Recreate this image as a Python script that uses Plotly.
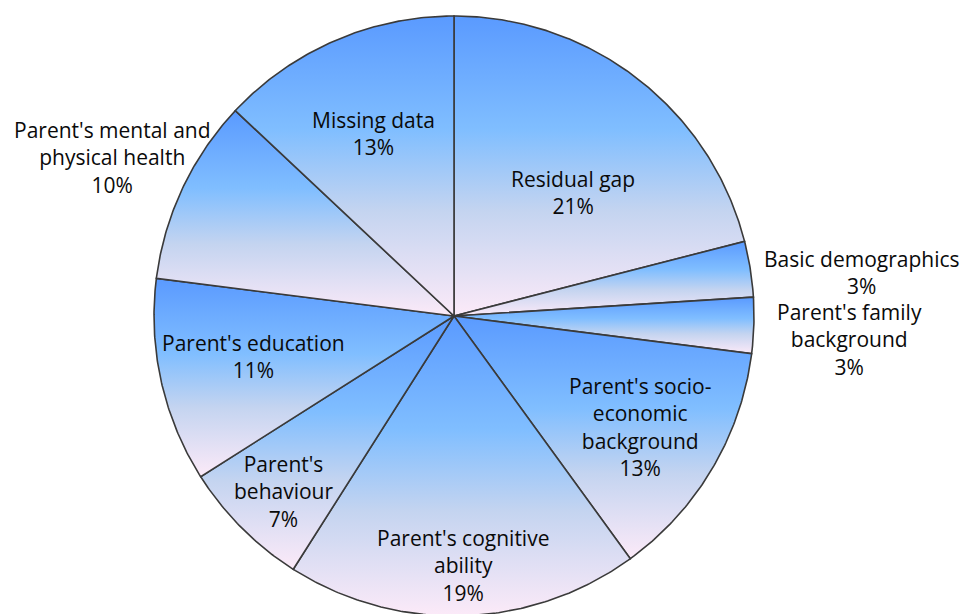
import numpy as np
import plotly.graph_objects as go

# Decomposition of the gap, clockwise from 12 o'clock
labels = [
    "Residual gap",
    "Basic demographics",
    "Parent's family<br>background",
    "Parent's socio-<br>economic<br>background",
    "Parent's cognitive<br>ability",
    "Parent's<br>behaviour",
    "Parent's education",
    "Parent's mental and<br>physical health",
    "Missing data",
]
shares = [21, 3, 3, 13, 19, 7, 11, 10, 13]

# Label anchor points in pixel space (x right, y up from the bottom edge)
label_x = [573, 862, 849, 640, 463, 283, 253, 112, 373]
label_y = [422, 342, 275, 187, 49, 123, 258, 457, 481]

W, H = 968, 614
CX, CY, R = 454, 298, 300

GRADIENT = [
    [0.0, "rgb(252,234,248)"],
    [0.35, "rgb(196,212,240)"],
    [0.62, "rgb(128,190,255)"],
    [1.0, "rgb(90,154,255)"],
]

fig = go.Figure()

total = float(sum(shares))
cum = 0.0
for name, v in zip(labels, shares):
    a0 = np.pi / 2 - 2 * np.pi * cum / total
    cum += v
    a1 = np.pi / 2 - 2 * np.pi * cum / total
    n = max(8, int(abs(a1 - a0) * 120))
    t = np.linspace(a0, a1, n)
    xs = np.concatenate([[CX], CX + R * np.cos(t), [CX]])
    ys = np.concatenate([[CY], CY + R * np.sin(t), [CY]])
    fig.add_trace(
        go.Scatter(
            x=xs,
            y=ys,
            mode="lines",
            fill="toself",
            fillgradient=dict(type="vertical", colorscale=GRADIENT),
            line=dict(color="#3a3a3a", width=1.6),
            hoverinfo="skip",
            name=name.replace("<br>", " "),
        )
    )

for name, v, lx, ly in zip(labels, shares, label_x, label_y):
    fig.add_annotation(
        x=lx,
        y=ly,
        text=f"{name}<br>{v}%",
        showarrow=False,
        align="center",
        xanchor="center",
        yanchor="middle",
        font=dict(family="Open Sans", size=21, color="#0a0a0a"),
    )

fig.update_layout(
    width=W,
    height=H,
    margin=dict(l=0, r=0, t=0, b=0),
    paper_bgcolor="white",
    plot_bgcolor="white",
    showlegend=False,
    xaxis=dict(range=[0, W], visible=False, fixedrange=True),
    yaxis=dict(range=[0, H], visible=False, fixedrange=True),
)

fig.write_html("out.html")
